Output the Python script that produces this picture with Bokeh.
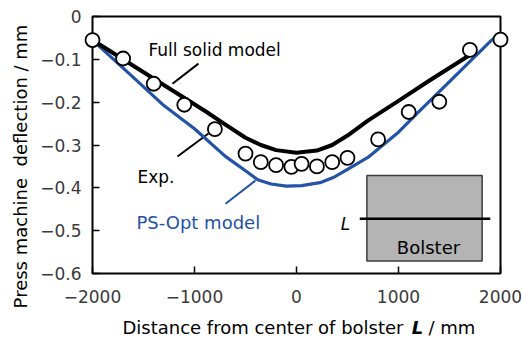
import math
from bokeh.plotting import figure
from bokeh.models import Range1d, FixedTicker, BoxAnnotation, Label
from bokeh.embed import file_html
from bokeh.resources import INLINE

# ---------------- data ----------------
exp_x = [-2000, -1700, -1400, -1100, -800, -500, -350, -200, -50, 50, 200, 350, 500, 800, 1100, 1400, 1700, 2000]
exp_y = [-0.055, -0.098, -0.157, -0.206, -0.263, -0.320, -0.340, -0.347, -0.351, -0.344, -0.350, -0.340, -0.330,
         -0.287, -0.223, -0.199, -0.078, -0.054]

full_x = [-2000, -1600, -1200, -900, -700, -500, -350, -200, 0, 200, 350, 500, 700, 1000, 1300, 1700]
full_y = [-0.055, -0.115, -0.175, -0.220, -0.252, -0.283, -0.300, -0.312, -0.318, -0.313, -0.300, -0.278,
          -0.243, -0.197, -0.150, -0.090]

opt_x = [-2000, -1600, -1300, -1000, -700, -500, -380, -250, -100, 50, 230, 360, 500, 700, 1000, 1200, 1500, 1900, 2000]
opt_y = [-0.055, -0.142, -0.208, -0.262, -0.326, -0.360, -0.381, -0.391, -0.396, -0.395, -0.388, -0.376,
         -0.357, -0.329, -0.270, -0.222, -0.152, -0.058, -0.040]

x_ticks = [-2000, -1000, 0, 1000, 2000]
x_tick_labels = ["\u22122000", "\u22121000", "0", "1000", "2000"]
y_ticks = [0, -0.1, -0.2, -0.3, -0.4, -0.5, -0.6]
y_tick_labels = ["0", "\u22120.1", "\u22120.2", "\u22120.3", "\u22120.4", "\u22120.5", "\u22120.6"]

# ---------------- layout geometry ----------------
W, H = 522, 342
AX_L, AX_R, AX_T, AX_B = 92, 500, 16, 273        # pixel box of the axes
XMIN, XMAX, YMIN, YMAX = -2000, 2000, -0.6, 0.0
kx = (XMAX - XMIN) / (AX_R - AX_L)
ky = (YMAX - YMIN) / (AX_B - AX_T)
XL, XR = XMIN - AX_L * kx, XMAX + (W - AX_R) * kx
YT, YB = YMAX + AX_T * ky, YMIN - (H - AX_B) * ky

def dx(px):
    return XL + px * kx

def dy(py):
    return YT - py * ky

FONT = "DejaVu Sans"
BLUE = "#2352a6"

p = figure(width=W, height=H, x_range=Range1d(XL, XR), y_range=Range1d(YB, YT),
           output_backend="svg", toolbar_location=None,
           min_border_left=0, min_border_right=0, min_border_top=0, min_border_bottom=0)
p.min_border = 0
p.xgrid.visible = False
p.ygrid.visible = False
p.outline_line_color = None
p.background_fill_color = "white"
p.border_fill_color = "white"

# axes (drawn at the box edges)
p.xaxis.ticker = FixedTicker(ticks=x_ticks)
p.yaxis.ticker = FixedTicker(ticks=y_ticks)
p.xaxis.major_label_overrides = dict(zip(x_ticks, x_tick_labels))
p.yaxis.major_label_overrides = dict(zip(y_ticks, y_tick_labels))
p.yaxis.fixed_location = XMIN
p.xaxis.fixed_location = YMIN
for ax in (p.xaxis, p.yaxis):
    ax.axis_line_color = None
    ax.major_tick_in = 7
    ax.major_tick_out = 0
    ax.major_tick_line_width = 1.5
    ax.major_tick_line_color = "black"
    ax.minor_tick_line_color = None
    ax.major_label_text_font = FONT
    ax.major_label_text_font_size = "17px"
    ax.major_label_text_color = "#3a3a3a"
p.xaxis.major_label_standoff = 16
p.yaxis.major_label_standoff = 11

# axes box
p.add_layout(BoxAnnotation(left=XMIN, right=XMAX, bottom=YMIN, top=YMAX, fill_color=None,
                           line_color="black", line_alpha=1.0, line_width=2, level="underlay"))

# inset (bolster sketch)
p.quad(left=[690], right=[1820], bottom=[-0.571], top=[-0.371], fill_color="#b4b4b4",
       line_color="#3c3c3c", line_width=1.5)
p.segment(x0=[620], y0=[-0.472], x1=[1900], y1=[-0.472], line_color="black", line_width=2.5)

# leader lines
p.segment(x0=[-961, -1167], y0=[-0.110, -0.327], x1=[-1216, -863], y1=[-0.157, -0.273],
          line_color="black", line_width=2)
p.segment(x0=[-696], y0=[-0.437], x1=[-402], y1=[-0.383], line_color=BLUE, line_width=2)

# model curves
p.line(opt_x, opt_y, line_color=BLUE, line_width=3.2, line_join="round", line_cap="round")
p.line(full_x, full_y, line_color="black", line_width=4, line_join="round", line_cap="round")

# experiment
p.scatter(exp_x, exp_y, size=14, marker="circle", fill_color="white", line_color="black", line_width=1.8)

# texts
def lab(x, y, text, size="17px", color="black", align="left", baseline="middle", angle=0.0,
        style="normal"):
    p.add_layout(Label(x=x, y=y, text=text, text_font=FONT, text_font_size=size, text_color=color,
                       text_align=align, text_baseline=baseline, angle=angle, text_font_style=style))

lab(-1451, -0.078, "Full solid model")
lab(-1559, -0.374, "Exp.")
lab(-1569, -0.481, "PS-Opt model", size="18px", color=BLUE)
lab(480, -0.484, "L", size="17px", align="center", style="italic")
lab(1294, -0.540, "Bolster", size="18px", align="center")

# axis titles
lab(dx(20), dy(166), "Press machine\u00a0 deflection / mm", size="18px", align="center", angle=math.pi / 2)
lab(dx(403), dy(327), "Distance from center of bolster", size="18px", align="right")
lab(dx(417), dy(327), "L", size="18px", align="center", style="bold italic")
lab(dx(428), dy(327), "/ mm", size="18px", align="left")

open("out.html", "w").write(file_html(p, INLINE))
